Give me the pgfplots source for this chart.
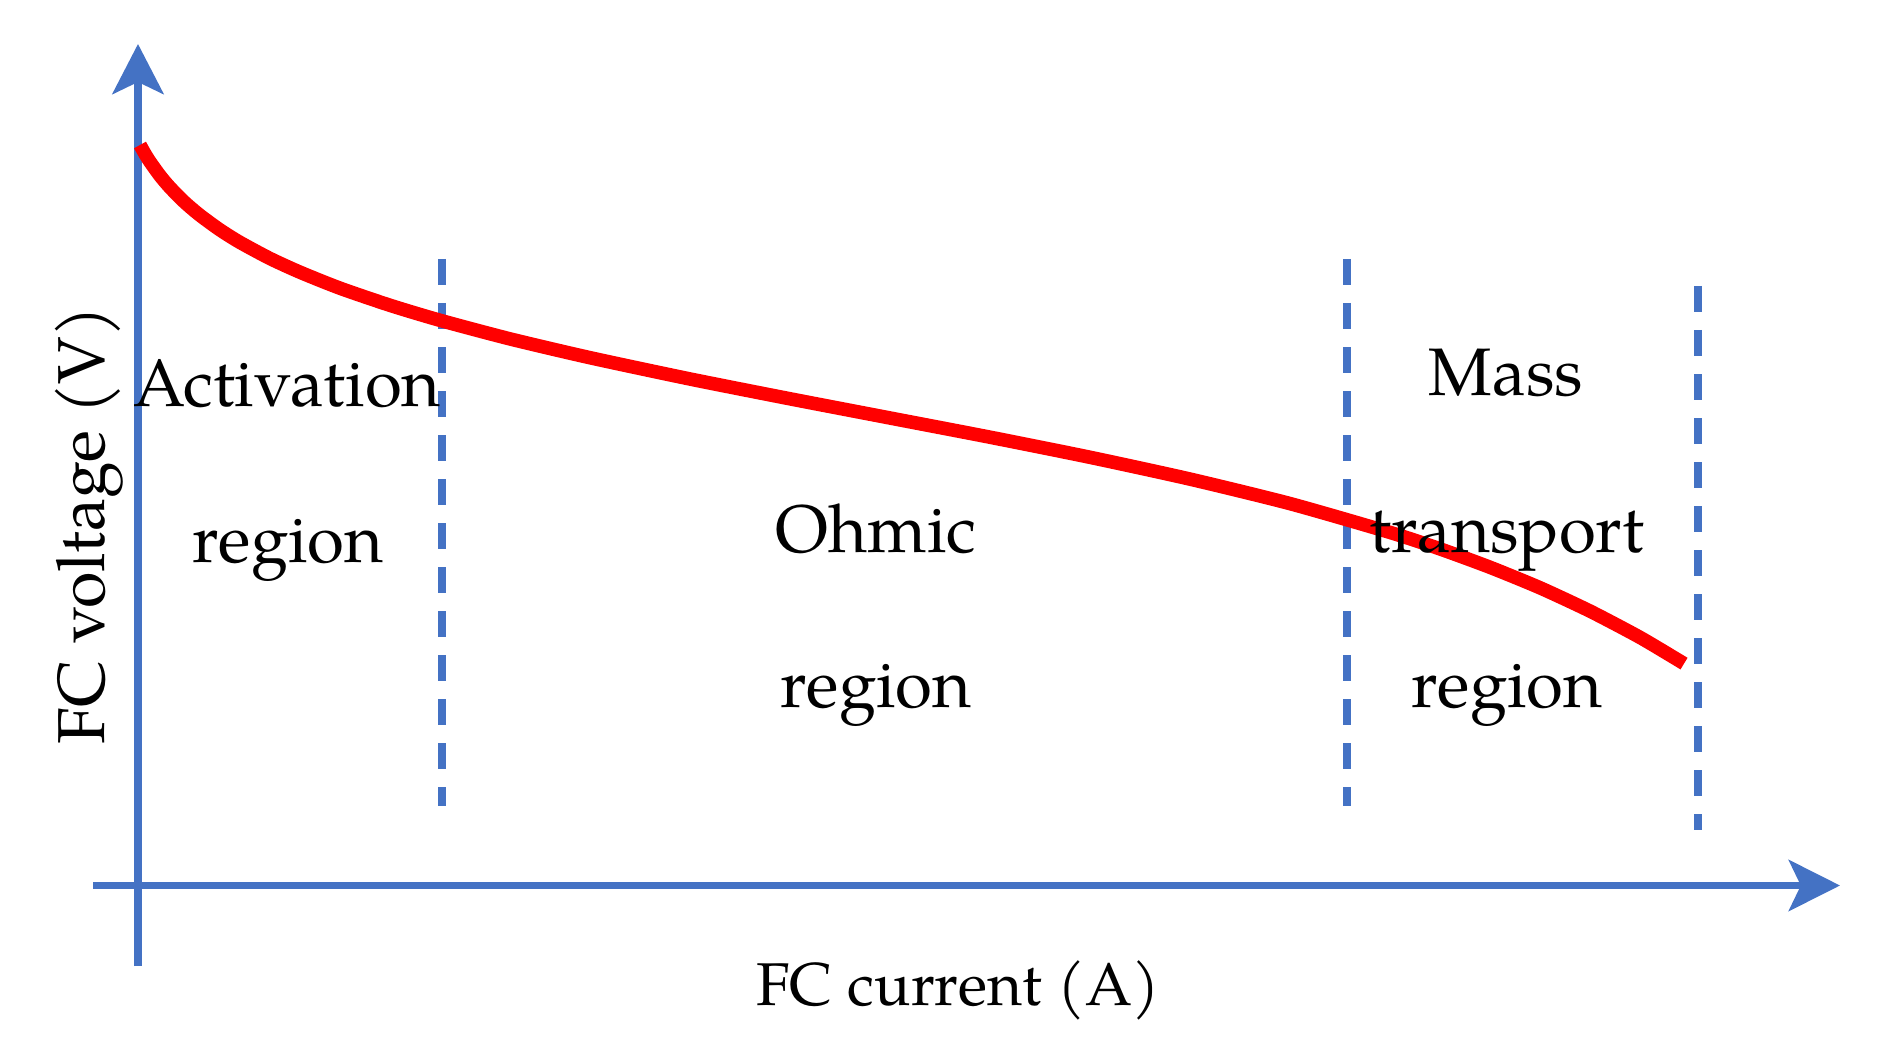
\documentclass[border=0pt]{standalone}
\usepackage{fontspec}
\setmainfont{TeX Gyre Pagella}
\usepackage{pgfplots}
\pgfplotsset{compat=1.18}
\usetikzlibrary{arrows.meta}
\definecolor{axblue}{RGB}{68,114,196}
\definecolor{fcred}{RGB}{255,0,0}
\begin{document}
\begin{tikzpicture}
\begin{axis}[
  width=470.5pt, height=265.5pt, scale only axis,
  xmin=0, xmax=1882, ymin=0, ymax=1062,
  axis lines=none, clip=false,
]
\path (axis cs:0,0) rectangle (axis cs:1882,1062);
% axes with arrows
\addplot[axblue, line width=1.95pt, -{Stealth[length=12.5pt, width=12.75pt, inset=3pt]}]
  coordinates {(138,96) (138,1018)};
\addplot[axblue, line width=1.8pt, -{Stealth[length=12.8pt, width=12.75pt, inset=3pt]}]
  coordinates {(93,176.5) (1840,176.5)};
% region boundaries
\addplot[axblue, line width=1.85pt, dash pattern=on 6.5pt off 4.5pt]
  coordinates {(442,803) (442,256)};
\addplot[axblue, line width=1.85pt, dash pattern=on 6.5pt off 4.5pt]
  coordinates {(1347,803) (1347,256)};
\addplot[axblue, line width=1.85pt, dash pattern=on 6.5pt off 4.5pt]
  coordinates {(1698,776) (1698,232)};
% polarization curve
\addplot[fcred, line width=3.4pt, smooth, tension=0.4] coordinates {
  (140,917.0) (145,908.1) (150,900.2) (160,886.3) (170,874.5) (185,859.4)
  (200,846.7) (220,832.1) (240,819.6) (270,803.5) (300,789.8) (340,773.8)
  (390,756.7) (440,741.7) (510,723.1) (590,704.3) (690,683.0) (790,663.2)
  (890,644.0) (990,624.8) (1090,604.7) (1190,582.9) (1290,558.4) (1390,529.6)
  (1440,513.1) (1490,494.7) (1540,474.2) (1590,450.9) (1640,424.6) (1684,398.4)
};
% labels
\begin{scope}[every node/.style={font=\fontsize{16.8pt}{20pt}\selectfont, anchor=base, inner sep=0pt}]
\node at (axis cs:287,656) {Activation};
\node at (axis cs:288,500) {region};
\node at (axis cs:876,510) {Ohmic};
\node at (axis cs:876,355) {region};
\node at (axis cs:1506,667) {Mass};
\node at (axis cs:1507,510) {transport};
\node at (axis cs:1507,355) {region};
\end{scope}
\node[font=\fontsize{15.1pt}{18pt}\selectfont, anchor=base, inner sep=0pt] at (axis cs:958,57) {FC current (A)};
\node[font=\fontsize{16.6pt}{18pt}\selectfont, anchor=base, inner sep=0pt, rotate=90] at (axis cs:104,537) {FC voltage (V)};
\end{axis}
\end{tikzpicture}
\end{document}
